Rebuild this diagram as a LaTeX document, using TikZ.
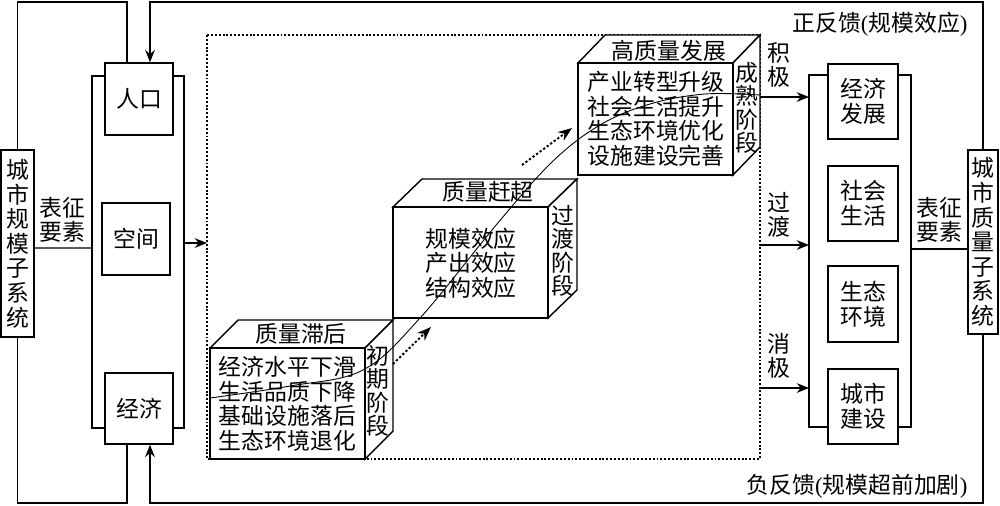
\documentclass[tikz,border=0pt]{standalone}
\usepackage{fontspec}
\setmainfont{Noto Sans CJK SC}
\newfontfamily\lat{Liberation Serif}
\usetikzlibrary{arrows.meta,calc}
\begin{document}
\begin{tikzpicture}[x=0.02cm,y=-0.02cm,
  line width=0.8pt,
  every node/.style={font=\fontsize{13pt}{14pt}\selectfont, inner sep=0pt, align=center},
  box/.style={draw, fill=white, minimum width=1.36cm, minimum height=1.44cm},
  rbox/.style={draw, fill=white, minimum width=1.4cm, minimum height=1.5cm},
  vtext/.style={font=\fontsize{13pt}{13.3pt}\selectfont},
  arr/.style={-{Stealth[length=7pt,width=5.5pt]}},
  dotline/.style={dash pattern=on 1.1pt off 1.1pt, line width=0.9pt},
  darr/.style={dash pattern=on 1.3pt off 1.2pt, line width=1.1pt, -{Stealth[length=8pt,width=6pt]}},
  face/.style={draw, fill=white, line join=miter},
]
\useasboundingbox (0,0) rectangle (1000,505);

% bracket rectangles
\draw (92,76) rectangle (184,428);
\draw (809,75) rectangle (911,427);

% left boxes
\node[box] (renkou) at (139,99) {人口};
\node[box] (kongjian) at (136,239) {空间};
\node[box, minimum height=1.42cm] (jingji) at (139,408.5) {经济};
\node[draw, fill=white, minimum width=0.66cm, minimum height=3.74cm] (gsys) at (17.5,243.5) {城\\市\\规\\模\\子\\系\\统};

% right boxes
\node[rbox] (jjfz) at (863,101.5) {经济\\发展};
\node[rbox] (shsh) at (863,203.5) {社会\\生活};
\node[rbox, minimum height=1.52cm] (sthj) at (863,304) {生态\\环境};
\node[rbox] (csjs) at (863,406.5) {城市\\建设};
\node[draw, fill=white, minimum width=0.6cm, minimum height=3.68cm] (qsys) at (983,242) {城\\市\\质\\量\\子\\系\\统};

% feedback loops
\coordinate (tl) at (127,2);
\coordinate (tr) at (150,2);
\coordinate (bl) at (127,503);
\coordinate (br) at (150,503);
\draw (gsys.north) |- (tl) -- ($(renkou.north)+(-12,0)$);
\draw[arr] (qsys.north) |- (tr) -- ($(renkou.north)+(11,0)$);
\draw (gsys.south) |- (bl) -- ($(jingji.south)+(-12,0)$);
\draw[arr] (qsys.south) |- (br) -- ($(jingji.south)+(11,0)$);
\node (zfk) at (880,24) {正反馈{\lat(}规模效应{\lat)}};
\node (ffk) at (857,486) {负反馈{\lat(}规模超前加剧{\lat)}};

% characterisation links
\draw ($(gsys.east)+(0,4.5)$) -- (92,248);
\node (bzl) at (62.5,220) {表征\\要素};
\draw (911,249) -- ($(qsys.west)+(0,7)$);
\node (bzr) at (939.5,220) {表征\\要素};

% dotted frame
\draw[dotline] (207,35) rectangle (760,459);
\draw[arr] (184,243) -- (207,243);

% cube 1
\draw[face] (210,348) -- (238,320) -- (393,320) -- (365,348) -- cycle;
\draw[face] (365,348) -- (393,320) -- (393,431) -- (365,459) -- cycle;
\draw[face] (210,348) rectangle (365,459);
\node (c1t) at (301,334) {质量滞后};
\node (c1f) at (287.5,404) {经济水平下滑\\生活品质下降\\基础设施落后\\生态环境退化};
\node[vtext] (c1s) at (378,391) {初\\期\\阶\\段};

% cube 2
\draw[face] (393,207) -- (422,179) -- (577,179) -- (548,207) -- cycle;
\draw[face] (548,207) -- (577,179) -- (577,290) -- (548,318) -- cycle;
\draw[face] (393,207) rectangle (548,318);
\node (c2t) at (488,192) {质量赶超};
\node (c2f) at (471,263) {规模效应\\产出效应\\结构效应};
\node[vtext] (c2s) at (563,251) {过\\渡\\阶\\段};

% cube 3
\draw[face] (578,63) -- (605,35) -- (760,35) -- (733,63) -- cycle;
\draw[face] (733,63) -- (760,35) -- (760,147) -- (733,175) -- cycle;
\draw[face] (578,63) rectangle (733,175);
\node (c3t) at (669,51) {高质量发展};
\node (c3f) at (656,119) {产业转型升级\\社会生活提升\\生态环境优化\\设施建设完善};
\node[vtext] (c3s) at (747,108) {成\\熟\\阶\\段};

% S curve
\draw[line width=0.5pt] plot[smooth, tension=0.6] coordinates {(210,398) (290,386) (363,370) (420,318) (497,224) (552,162) (600,125) (650,104) (705,94) (760,95)};

% dotted arrows
\coordinate (d1a) at (393,364);
\coordinate (d1b) at (431,327);
\coordinate (d2a) at (522,165);
\coordinate (d2b) at (572,128);
\draw[darr] (d1a) -- (d1b);
\draw[darr] (d2a) -- (d2b);

% outputs
\draw[arr] (760,97) -- (809,97);
\draw[arr] (760,245) -- (809,245);
\draw[arr] (760,388) -- (809,388);
\node (jj) at (779,65) {积\\极};
\node (gd) at (779,215) {过\\渡};
\node (xj) at (779,356) {消\\极};
\end{tikzpicture}
\end{document}
